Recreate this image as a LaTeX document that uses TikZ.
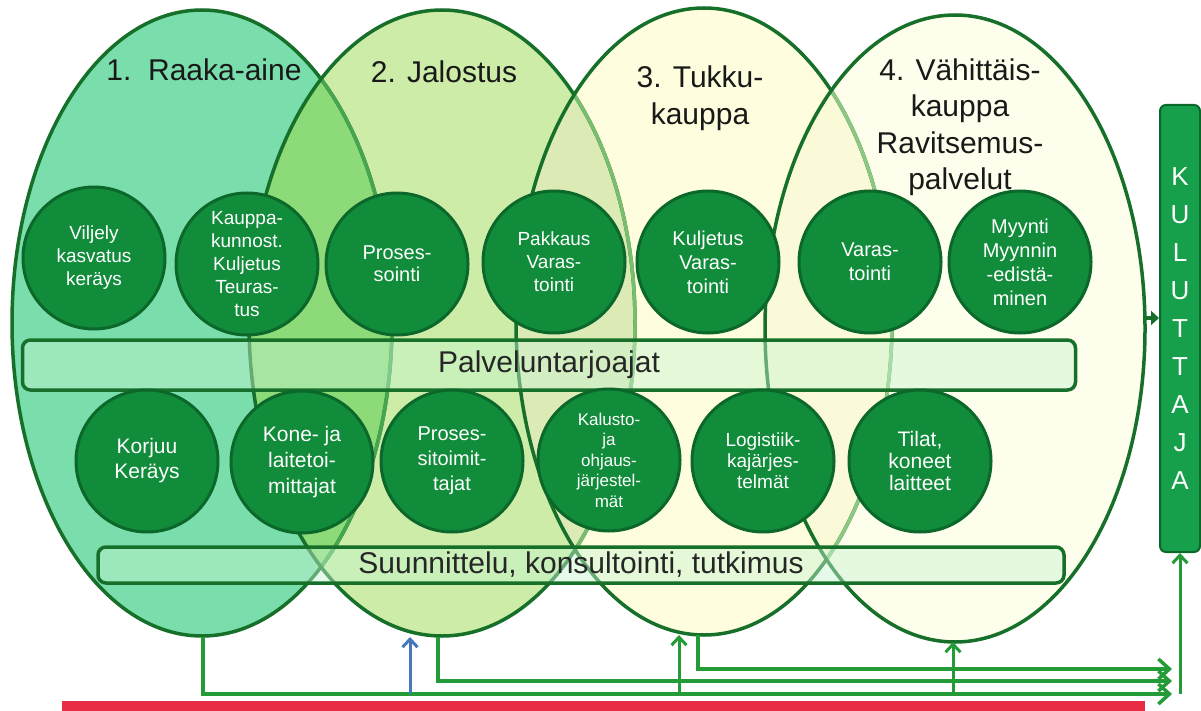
\documentclass[tikz,border=0pt]{standalone}
\usepackage{fontspec}
\setmainfont{Liberation Sans}
\usepackage{tikz}
\usepackage{xcolor}
\usetikzlibrary{arrows.meta}

\definecolor{rawfill}{RGB}{122,221,172}
\definecolor{refinefill}{RGB}{205,236,168}
\definecolor{wholefill}{RGB}{254,253,222}
\definecolor{retailfill}{RGB}{254,254,236}
\definecolor{rawrefine}{RGB}{140,218,120}
\definecolor{refinewhole}{RGB}{220,234,182}
\definecolor{wholeretail}{RGB}{250,250,216}
\definecolor{rimgreen}{RGB}{22,112,42}
\definecolor{fadeA}{RGB}{70,165,80}
\definecolor{fadeB}{RGB}{120,190,110}
\definecolor{fadeC}{RGB}{140,200,130}
\definecolor{bubgreen}{RGB}{16,140,58}
\definecolor{bubrim}{RGB}{12,104,42}
\definecolor{barfill}{RGB}{200,245,210}
\definecolor{consumer}{RGB}{22,160,75}
\definecolor{flowgreen}{RGB}{35,155,55}
\definecolor{inblue}{RGB}{70,120,190}
\definecolor{basered}{RGB}{232,44,70}

\def\ellRaw{(202,323) ellipse [x radius=190, y radius=313]}
\def\ellRefine{(442,323) ellipse [x radius=193, y radius=313]}
\def\ellWhole{(704,321.5) ellipse [x radius=188, y radius=313.5]}
\def\ellRetail{(955,328.5) ellipse [x radius=190, y radius=313.5]}

\begin{document}
\begin{tikzpicture}[x=1pt, y=-1pt,
    bub/.style={circle, draw=bubrim, line width=3pt, fill=bubgreen, text=white,
        align=center, inner sep=0pt, minimum size=142pt},
    bubfont/.style 2 args={font=\fontsize{#1}{#2}\selectfont},
    band/.style={rectangle, rounded corners=8pt, draw=rimgreen, line width=3.5pt,
        fill=barfill, fill opacity=0.45, text opacity=1, text=black!85,
        font=\fontsize{30}{34}\selectfont},
    stage/.style={align=center, text=black!90, font=\fontsize{30}{36.5}\selectfont},
    flow/.style={draw=flowgreen, line width=3.5pt, -{Straight Barb[length=11pt,width=20pt]}},
    upflow/.style={line width=3pt, -{Straight Barb[length=8pt,width=15pt]}}]
    \useasboundingbox (0,0) rectangle (1201,711);
    \fill[white] (0,0) rectangle (1201,711);

    % Ellipses
    \fill[rawfill] \ellRaw;
    \fill[refinefill] \ellRefine;
    \fill[wholefill] \ellWhole;
    \fill[retailfill] \ellRetail;
    \begin{scope}
        \clip \ellRaw;
        \fill[rawrefine] \ellRefine;
    \end{scope}
    \begin{scope}
        \clip \ellRefine;
        \fill[refinewhole] \ellWhole;
    \end{scope}
    \begin{scope}
        \clip \ellWhole;
        \fill[wholeretail] \ellRetail;
    \end{scope}
    \draw[rimgreen, line width=3.5pt] \ellRaw;
    \begin{scope}
        \clip \ellRefine;
        \draw[fadeA, line width=3.5pt] \ellRaw;
    \end{scope}
    \draw[rimgreen, line width=3.5pt] \ellRefine;
    \begin{scope}
        \clip \ellWhole;
        \draw[fadeB, line width=3.5pt] \ellRefine;
    \end{scope}
    \draw[rimgreen, line width=3.5pt] \ellWhole;
    \begin{scope}
        \clip \ellRetail;
        \draw[fadeC, line width=3.5pt] \ellWhole;
    \end{scope}
    \draw[rimgreen, line width=3.5pt] \ellRetail;

    \coordinate (raaka) at (203,637);
    \coordinate (jalo) at (438,637);
    \coordinate (tukku) at (698,635);
    \coordinate (vahit) at (953,642);
    \coordinate (vahitr) at (1145,318);

    % Stage titles
    \node[stage] (t1) at (204,70) {1.~~Raaka-aine};
    \node[stage] (t2) at (444,72) {2. Jalostus};
    \node[stage] (t3) at (700,98) {3. Tukku-\\kauppa};
    \node[stage] (t4) at (960,127) {4. Vähittäis-\\kauppa\\Ravitsemus-\\palvelut};

    % Upper circles
    \node[bub, bubfont={19}{23}] (vilj) at (94,258) {Viljely\\kasvatus\\keräys};
    \node[bub, bubfont={19}{23}] (kaup) at (247,264) {Kauppa-\\kunnost.\\Kuljetus\\Teuras-\\tus};
    \node[bub, bubfont={20}{22}] (pros) at (397,264) {Proses-\\sointi};
    \node[bub, bubfont={19}{23}] (pakk) at (554,262) {Pakkaus\\Varas-\\tointi};
    \node[bub, bubfont={20}{24}] (kulj) at (708,262) {Kuljetus\\Varas-\\tointi};
    \node[bub, bubfont={20}{24}] (vara) at (870,262) {Varas-\\tointi};
    \node[bub, bubfont={20}{24}] (myyn) at (1020,262) {Myynti\\Myynnin\\-edistä-\\minen};

    % Bands
    \node[band, minimum width=1053pt, minimum height=50pt] (palv) at (549,365) {Palveluntarjoajat};
    \node[band, minimum width=966pt, minimum height=36pt] (suun) at (581,565) {Suunnittelu, konsultointi, tutkimus};

    % Lower circles
    \node[bub, bubfont={21}{25}] (korj) at (147,461) {Korjuu\\Keräys};
    \node[bub, bubfont={21}{26}] (kone) at (302,462) {Kone- ja\\laitetoi-\\mittajat};
    \node[bub, bubfont={20}{25}] (psit) at (452,461) {Proses-\\sitoimit-\\tajat};
    \node[bub, bubfont={17}{20.5}] (kalu) at (609,460) {Kalusto-\\ja\\ohjaus-\\järjestel-\\mät};
    \node[bub, bubfont={19}{21}] (logi) at (763,461) {Logistiik-\\kajärjes-\\telmät};
    \node[bub, bubfont={21}{22}] (tila) at (920,461) {Tilat,\\koneet\\laitteet};

    % Consumer
    \node[rectangle, rounded corners=6pt, draw=bubrim, line width=2pt, fill=consumer,
        minimum width=40pt, minimum height=447pt, text=white, align=center,
        font=\fontsize{26}{38}\selectfont] (kulu) at (1180,328.5) {K\\U\\L\\U\\T\\T\\A\\J\\A};
    \draw[rimgreen, line width=4.5pt, -{Triangle[length=8pt,width=14pt]}] (vahitr) -- (vahitr -| kulu.west);

    % Flows to consumer
    \coordinate (endA) at (1172,694);
    \coordinate (endB) at (1172,681);
    \coordinate (endC) at (1172,669);
    \draw[flow] (raaka) |- (endA);
    \draw[flow] (jalo) |- (endB);
    \draw[flow] (tukku) |- (endC);
    \coordinate (kulin) at (1180,694);
    \draw[upflow, flowgreen] (kulin) -- (kulu.south);

    % Inputs from below
    \coordinate (inblue) at (410,694);
    \coordinate (intukku) at (679,694);
    \coordinate (invahit) at (953,694);
    \draw[upflow, inblue] (inblue) -- (inblue |- jalo);
    \draw[upflow, flowgreen] (intukku) -- (intukku |- tukku);
    \draw[upflow, flowgreen] (invahit) -- (vahit);

    % Base
    \fill[basered] (62,701) rectangle (1145,711);
\end{tikzpicture}
\end{document}
